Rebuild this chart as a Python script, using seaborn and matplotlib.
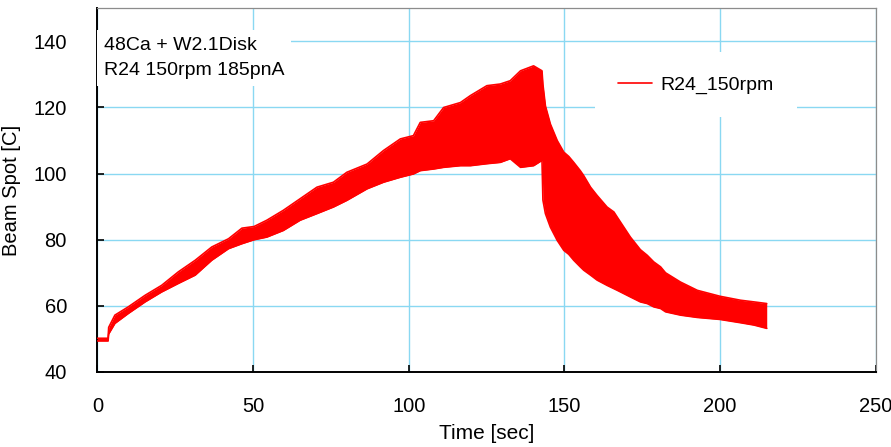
import matplotlib
matplotlib.use("Agg")
import matplotlib.pyplot as plt
import seaborn as sns

# Beam spot temperature vs time: the signal oscillates rapidly, so each
# sample time carries the upper and lower edge of the oscillation band.
time_sec = [0.0, 3.4, 3.6, 5.6, 9.9, 15.3, 20.6, 26.0, 31.4, 36.7, 42.1, 46.4,
            50.3, 54.4, 59.7, 65.1, 70.5, 75.8, 80.1, 86.6, 91.9, 97.3, 101.5,
            103.7, 108.0, 111.2, 116.6, 119.8, 125.1, 129.4, 132.6, 135.9,
            140.1, 142.8, 143.1, 143.9, 145.5, 147.7, 149.8, 151.4, 153.0,
            155.1, 156.2, 158.4, 160.5, 163.7, 165.9, 167.0, 171.2, 174.4,
            176.6, 178.7, 180.9, 182.5, 187.3, 192.7, 200.0, 206.6, 210.9,
            215.0]
spot_upper = [50.2, 50.2, 53.5, 57.2, 59.7, 63.2, 66.2, 70.3, 73.8, 77.8, 80.3,
              83.5, 84.0, 85.9, 88.9, 92.4, 95.9, 97.4, 100.4, 102.9, 107.0,
              110.5, 111.5, 115.5, 116.0, 120.0, 121.5, 123.6, 126.6, 127.1,
              128.1, 131.1, 132.6, 131.1, 127.0, 120.5, 115.0, 110.0, 106.5,
              105.2, 103.4, 100.9, 99.4, 95.9, 93.4, 89.9, 88.4, 86.8, 80.8,
              77.0, 75.3, 73.3, 71.8, 70.0, 67.2, 64.7, 62.9, 61.7, 61.2, 60.7]
spot_lower = [49.4, 49.4, 51.5, 54.7, 57.7, 61.2, 64.2, 66.8, 69.3, 73.8, 77.3,
              78.8, 80.0, 80.8, 82.8, 85.9, 87.9, 89.9, 91.9, 95.4, 97.4, 98.9,
              99.9, 100.9, 101.4, 101.9, 102.4, 102.4, 103.0, 103.4, 104.5,
              101.9, 102.4, 104.0, 92.0, 87.9, 83.8, 79.8, 76.8, 75.6, 73.8,
              71.8, 70.8, 69.3, 67.8, 66.2, 65.2, 64.7, 62.7, 61.2, 60.7, 59.7,
              59.2, 58.2, 57.2, 56.5, 55.9, 54.9, 54.2, 53.2]

x_ticks = [0, 50, 100, 150, 200, 250]
y_ticks = [40, 60, 80, 100, 120, 140]
series_label = "R24_150rpm"
note_lines = ["48Ca + W2.1Disk", "R24 150rpm 185pnA"]

sns.set_theme(style="white")
plt.rcParams["font.family"] = ["Liberation Sans", "DejaVu Sans"]
plt.rcParams["text.color"] = "black"
plt.rcParams["axes.labelcolor"] = "black"
plt.rcParams["xtick.color"] = "black"
plt.rcParams["ytick.color"] = "black"

fig = plt.figure(figsize=(8.91, 4.47), dpi=100)
ax = fig.add_axes([0.1094, 0.1678, 0.8734, 0.8136])

line_color = "#ff0000"
ax.fill_between(time_sec, spot_lower, spot_upper, color=line_color, lw=0, zorder=3)
sns.lineplot(x=time_sec, y=spot_upper, ax=ax, color=line_color, lw=1.2,
             label=series_label, zorder=4)
sns.lineplot(x=time_sec, y=spot_lower, ax=ax, color=line_color, lw=1.2, zorder=4)

ax.set_xlim(0, 250)
ax.set_ylim(40, 150)
ax.set_xticks(x_ticks)
ax.set_yticks(y_ticks)
ax.grid(True, color="#8ad8f2", lw=1.0, zorder=0)
ax.set_axisbelow(True)

ax.tick_params(axis="both", direction="in", length=5, width=1.2, color="black",
               labelsize=14.5, bottom=True, left=True)
ax.tick_params(axis="y", pad=22)
ax.tick_params(axis="x", pad=18)

for side in ("left", "bottom"):
    ax.spines[side].set_color("black")
    ax.spines[side].set_linewidth(1.4)
for side in ("top", "right"):
    ax.spines[side].set_color("#8c8c8c")
    ax.spines[side].set_linewidth(0.9)

ax.set_xlabel("Time [sec]", fontsize=15, labelpad=6)
ax.set_ylabel("Beam Spot [C]", fontsize=14.5, labelpad=9)

ax.text(0.008, 0.921, "\n".join(note_lines), transform=ax.transAxes,
        fontsize=14, va="top", ha="left", linespacing=1.6, zorder=5,
        bbox=dict(facecolor="white", edgecolor="none", pad=5))

leg = ax.legend(loc="center", bbox_to_anchor=(0.769, 0.79), frameon=True,
                fontsize=14, handlelength=1.75, handletextpad=0.45,
                borderpad=1.2, fancybox=False)
leg.get_frame().set_facecolor("white")
leg.get_frame().set_edgecolor("none")
leg.get_frame().set_alpha(1.0)
leg.set_zorder(6)

fig.savefig("out.png", dpi=100)
